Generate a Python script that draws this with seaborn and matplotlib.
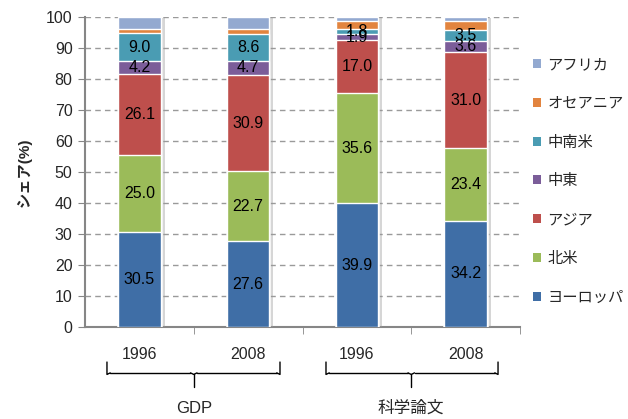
import numpy as np
import pandas as pd
import matplotlib
matplotlib.use("Agg")
import matplotlib.pyplot as plt
import matplotlib.patheffects as pe
from matplotlib.patches import Patch
import seaborn as sns

# ---- data ----
bars = ["GDP-1996", "GDP-2008", "論文-1996", "論文-2008"]
year_labels = ["1996", "2008", "1996", "2008"]
group_labels = ["GDP", "科学論文"]
regions = ["ヨーロッパ", "北米", "アジア", "中東", "中南米", "オセアニア", "アフリカ"]
europe = [30.5, 27.6, 39.9, 34.2]
north_america = [25.0, 22.7, 35.6, 23.4]
asia = [26.1, 30.9, 17.0, 31.0]
middle_east = [4.2, 4.7, 1.9, 3.6]
latin_america = [9.0, 8.6, 1.8, 3.5]
oceania = [1.3, 1.6, 2.4, 3.0]
africa = [3.9, 3.9, 1.4, 1.3]
label_regions = ["ヨーロッパ", "北米", "アジア", "中東", "中南米"]

colors = ["#3F6EA6", "#9BBB59", "#BE4F4C", "#7B5D99", "#4A9CB3", "#E2843F", "#93A9D0"]

series = [europe, north_america, asia, middle_east, latin_america, oceania, africa]
df = pd.DataFrame({r: v for r, v in zip(regions, series)}, index=bars)
cum = df.cumsum(axis=1)

sns.set_style("white")
plt.rcParams["font.family"] = ["Liberation Sans", "Noto Sans CJK JP"]

fig = plt.figure(figsize=(6.28, 4.19), dpi=100)
ax = fig.add_axes([85 / 628, 1 - 327 / 419, 435 / 628, 310 / 419])

# draw stacked bars (tallest first)
for i in range(len(regions) - 1, -1, -1):
    r = regions[i]
    d = pd.DataFrame({"bar": bars, "val": cum[r].values})
    sns.barplot(data=d, x="bar", y="val", order=bars, color=colors[i],
                saturation=1, width=0.39, edgecolor="white", linewidth=1.0,
                ax=ax, zorder=3)
    if i == len(regions) - 1:
        for p in ax.patches:
            p.set_path_effects([pe.SimplePatchShadow(offset=(3, -1), shadow_rgbFace="#999999", alpha=0.4), pe.Normal()])

# value labels
for r in label_regions:
    for k, b in enumerate(bars):
        v = df.loc[b, r]
        mid = cum.loc[b, r] - v / 2
        ax.text(k, mid, f"{v:.1f}", ha="center", va="center", fontsize=11.5, color="black", zorder=5)

ax.set_ylim(0, 100)
ax.set_xlim(-0.5, 3.5)
ax.set_yticks(np.arange(0, 101, 10))
ax.yaxis.grid(True, linestyle=(0, (4, 3)), color="#9A9A9A", linewidth=1.0, zorder=0)
ax.xaxis.grid(False)
ax.set_axisbelow(True)
for s in ["top", "right"]:
    ax.spines[s].set_visible(False)
for s in ["left", "bottom"]:
    ax.spines[s].set_color("#868686")
    ax.spines[s].set_linewidth(1.5)
ax.tick_params(axis="y", left=True, length=5, color="#868686", labelsize=11.5, pad=4)
ax.set_xticks([])
ax.set_xticks([0.5, 1.5, 2.5, 3.5], minor=True)
ax.tick_params(axis="x", which="minor", bottom=True, length=5, color="#868686", direction="out")
ax.set_xlabel("")
ax.set_ylabel("シェア(%)", fontsize=11, fontweight="bold", labelpad=10)

# year labels and group braces
trans = ax.get_xaxis_transform()
for k, yl in enumerate(year_labels):
    ax.text(k, -0.09, yl, transform=trans, ha="center", va="center", fontsize=11.5)

def brace(x0, x1, xc):
    ys, ye, yt = -0.113, -0.148, -0.194
    kw = dict(transform=trans, color="black", linewidth=1.0, clip_on=False)
    ax.plot([x0, x0, x0 + 0.03], [ys, ye - 0.005, ye], **kw)
    ax.plot([x0 + 0.03, xc - 0.03], [ye, ye], **kw)
    ax.plot([xc - 0.03, xc, xc + 0.03], [ye, ye - 0.005, ye], **kw)
    ax.plot([xc, xc], [ye - 0.005, yt], **kw)
    ax.plot([xc + 0.03, x1 - 0.03], [ye, ye], **kw)
    ax.plot([x1 - 0.03, x1, x1], [ye, ye - 0.005, ys], **kw)

brace(-0.298, 1.293, 0.5)
brace(1.716, 3.298, 2.5)
for xc, g in zip([0.5, 2.5], group_labels):
    ax.text(xc, -0.262, g, transform=trans, ha="center", va="center", fontsize=12)

# legend
handles = [Patch(facecolor=colors[i], edgecolor="none", label=regions[i]) for i in range(len(regions) - 1, -1, -1)]
fig.legend(handles=handles, loc="upper left", bbox_to_anchor=(533 / 628, 1 - 58 / 419),
           frameon=False, fontsize=11, handlelength=0.55, handleheight=0.55,
           handletextpad=0.4, labelspacing=1.62, borderpad=0, borderaxespad=0)

fig.savefig("out.png", dpi=100)
